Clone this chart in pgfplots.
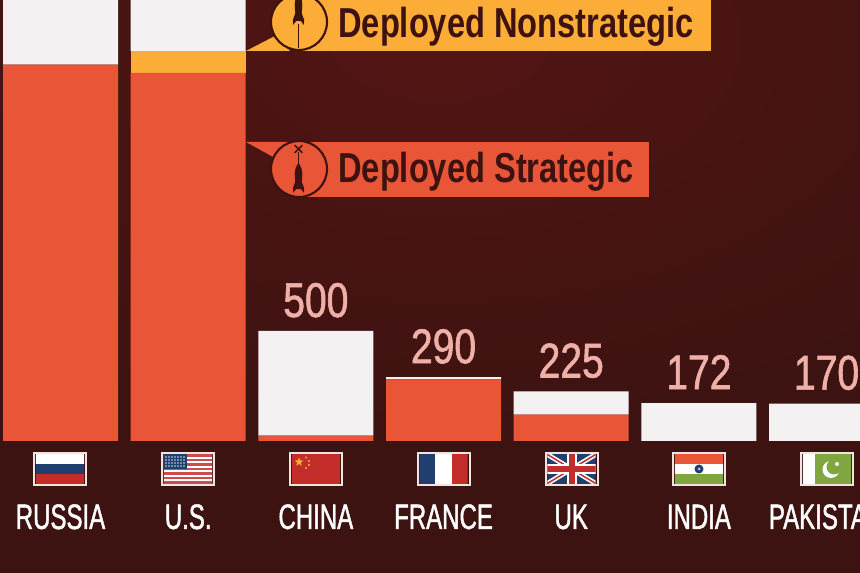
\documentclass[border=0pt]{standalone}
\usepackage{pgfplots}
\pgfplotsset{compat=1.18}
\usepackage{pgfplotstable}
\usetikzlibrary{shapes.geometric}
\usepackage{fontspec}
\setmainfont{Liberation Sans}
\newfontfamily\calloutfont[FakeStretch=0.78,BoldFont={Liberation Sans Bold}]{Liberation Sans}
\newfontfamily\narrowfont[FakeStretch=0.68,FakeBold=1.2]{Liberation Sans}
\newfontfamily\valuefont[FakeStretch=0.80,FakeBold=1.2]{Liberation Sans}
\definecolor{bgdark}{HTML}{3C1311}
\definecolor{bgred}{HTML}{521413}
\definecolor{inkdark}{HTML}{3D1210}
\definecolor{strat}{HTML}{E85637}
\definecolor{nonstrat}{HTML}{FCAD37}
\definecolor{reserve}{HTML}{F4F1F3}
\definecolor{valcol}{HTML}{EFB0A8}
\definecolor{cream}{HTML}{EFE5DE}
\definecolor{fblue}{HTML}{1F3F6E}
\definecolor{fred}{HTML}{C22D2A}
\definecolor{fgreen}{HTML}{7FA63F}
\pgfplotstableread{
idx strategic nonstrategic other
0 1711 0 400
1 1673 100 340
2 24 0 476
3 280 0 10
4 120 0 105
5 0 0 172
6 0 0 170
}\stockpile
% flag frame: local coordinates in reference pixels, centred on the flag
\newcommand{\flagframe}[2]{%
  \begin{scope}[shift={(#1,469)}]
    \fill[cream] (-27,-17) rectangle (27,17);
    \fill[inkdark] (-25,-15) rectangle (25,15);
    \begin{scope}
      \clip (-24.2,-14.2) rectangle (24.2,14.2);
      #2
    \end{scope}
  \end{scope}}
% rocket with nose at (0,0), pointing up, 33 px long
\newcommand{\rocket}{%
  \fill[inkdark] (0,0) .. controls (2.2,3) and (3.8,7) .. (3.8,12)
    .. controls (3.8,15) and (3.4,18) .. (3.2,20) -- (5.6,27) -- (5.4,32) -- (2.2,28) -- (-2.2,28)
    -- (-5.4,32) -- (-5.6,27) -- (-3.2,20) .. controls (-3.4,18) and (-3.8,15) .. (-3.8,12)
    .. controls (-3.8,7) and (-2.2,3) .. (0,0) -- cycle;}
\begin{document}
\begin{tikzpicture}
\useasboundingbox (0,0) rectangle (645pt,429.75pt);
\clip (0,0) rectangle (645pt,429.75pt);
\fill[bgdark] (0,0) rectangle (645pt,429.75pt);
\begin{scope}
  \shade[inner color=bgred,outer color=bgdark] (330pt,400pt) ellipse [x radius=520pt,y radius=300pt];
\end{scope}
\begin{axis}[
  at={(0,0)},anchor=south west,
  width=645pt,height=429.75pt,scale only axis,
  ybar stacked,bar width=86.25pt,
  xmin=-0.4739,xmax=6.262,ymin=-600,ymax=2004.5,
  axis y line=none,axis x line=middle,
  axis line style={draw=none},
  enlargelimits=false,
  major tick length=0pt,
  xtick={0,1,2,3,4,5,6},
  hide obscured x ticks=false,
  xticklabels={RUSSIA,U.S.,CHINA,FRANCE,UK,INDIA,PAKISTAN},
  xticklabel style={anchor=base,yshift=-66pt,text=white,inner sep=0pt,font=\narrowfont\fontsize{26.5}{26.5}\selectfont},
  ytick=\empty,
]
\addplot[fill=strat,draw=none] table[x=idx,y=strategic] {\stockpile};
\addplot[fill=nonstrat,draw=none] table[x=idx,y=nonstrategic] {\stockpile};
\addplot[fill=reserve,draw=none] table[x=idx,y=other] {\stockpile};
\end{axis}
\begin{axis}[
  at={(0,0)},anchor=south west,
  width=645pt,height=429.75pt,scale only axis,
  xmin=-0.4739,xmax=6.262,ymin=-600,ymax=2004.5,
  hide axis,
  point meta=y,
  nodes near coords,
  nodes near coords align={anchor=base},
  every node near coord/.append style={anchor=base,yshift=10.5pt,inner sep=0pt,text=valcol,
    font=\valuefont\fontsize{36.6}{36.6}\selectfont,/pgf/number format/assume math mode=true},
]
\addplot[only marks,mark=none] coordinates {(2,500) (3,290) (4,225) (5,172) (6,170)};
\end{axis}
% everything below is annotation, in reference pixels
\begin{scope}[x=0.75pt,y=-0.75pt,shift={(0pt,429.75pt)}]
  % Deployed Nonstrategic call-out
  \fill[nonstrat] (246,51) -- (275,36) -- (290,51) -- cycle;
  \fill[nonstrat] (299,0) rectangle (710.7,51);
  \fill[nonstrat,draw=inkdark,line width=1.6pt] (299,22) circle (28);
  \begin{scope}[shift={(298.5,-7)}]\rocket\end{scope}
  \draw[inkdark,line width=1pt] (298.5,24) -- (298.5,48);
  \node[anchor=base west,inner sep=0pt,text=inkdark,font=\calloutfont\bfseries\fontsize{31.4}{31.4}\selectfont] at (338,38) {Deployed Nonstrategic};
  % Deployed Strategic call-out
  \fill[strat] (246,142) -- (290,142) -- (275,158) -- cycle;
  \fill[strat] (299,141.7) rectangle (649,196.7);
  \fill[strat,draw=inkdark,line width=1.6pt] (299,169) circle (28);
  \draw[inkdark,line width=1.1pt,line cap=round] (295,145.5) -- (302,152.5) (302,145.5) -- (295,152.5);
  \draw[inkdark,line width=1pt] (298.5,152) -- (298.5,170);
  \begin{scope}[shift={(298.5,163)},yscale=0.93]\rocket\end{scope}
  \node[anchor=base west,inner sep=0pt,text=inkdark,font=\calloutfont\bfseries\fontsize{31.4}{31.4}\selectfont] at (338,183) {Deployed Strategic};
  % flags
  \flagframe{60}{%
    \fill[white] (-25,-15) rectangle (25,-5);
    \fill[fblue] (-25,-5) rectangle (25,5);
    \fill[fred] (-25,5) rectangle (25,15);}
  \flagframe{188}{%
    \fill[white] (-25,-15) rectangle (25,15);
    \foreach \k in {0,2,4,6,8,10,12}{\fill[fred!85!white] (-25,{-14.6+\k*2.25}) rectangle (25,{-14.6+(\k+1)*2.25});}
    \fill[fblue] (-25,-15) rectangle (-1,0);
    \foreach \a in {-22,-19,-16,-13,-10,-7,-4}{\foreach \b in {-12,-9,-6,-3}{\fill[white!80!fblue] (\a,\b) circle (0.9);}}}
  \flagframe{316}{%
    \fill[fred] (-25,-15) rectangle (25,15);
    \node[star,star points=5,star point ratio=2.4,fill=nonstrat,inner sep=0pt,minimum size=7pt] at (-17,-7) {};
    \foreach \p in {(-10,-11.5),(-7,-8),(-7,-4),(-10,-1)}{\fill[nonstrat] \p circle (1.2);}}
  \flagframe{443.5}{%
    \fill[fblue] (-25,-15) rectangle (-8.3,15);
    \fill[white] (-8.3,-15) rectangle (8.3,15);
    \fill[fred] (8.3,-15) rectangle (25,15);}
  \flagframe{571.5}{%
    \fill[fblue] (-25,-15) rectangle (25,15);
    \draw[white,line width=3.6pt] (-25,-15) -- (25,15) (-25,15) -- (25,-15);
    \draw[fred,line width=1.1pt] (-25,-15) -- (25,15) (-25,15) -- (25,-15);
    \fill[white] (-5,-15) rectangle (5,15);
    \fill[white] (-25,-5) rectangle (25,5);
    \fill[fred] (-3,-15) rectangle (3,15);
    \fill[fred] (-25,-3) rectangle (25,3);}
  \flagframe{699}{%
    \fill[strat] (-25,-15) rectangle (25,-5);
    \fill[white] (-25,-5) rectangle (25,5);
    \fill[fgreen] (-25,5) rectangle (25,15);
    \fill[fblue] (0,0) circle (4.5);
    \fill[white!70!fblue] (0,0) circle (1.5);}
  \flagframe{827}{%
    \fill[white] (-25,-15) rectangle (-12,15);
    \fill[fgreen] (-12,-15) rectangle (25,15);
    \fill[white] (4,0.5) circle (8.5);
    \fill[fgreen] (7,-2) circle (7.5);
    \fill[white] (10,-5) circle (2);}
\end{scope}
\end{tikzpicture}
\end{document}
